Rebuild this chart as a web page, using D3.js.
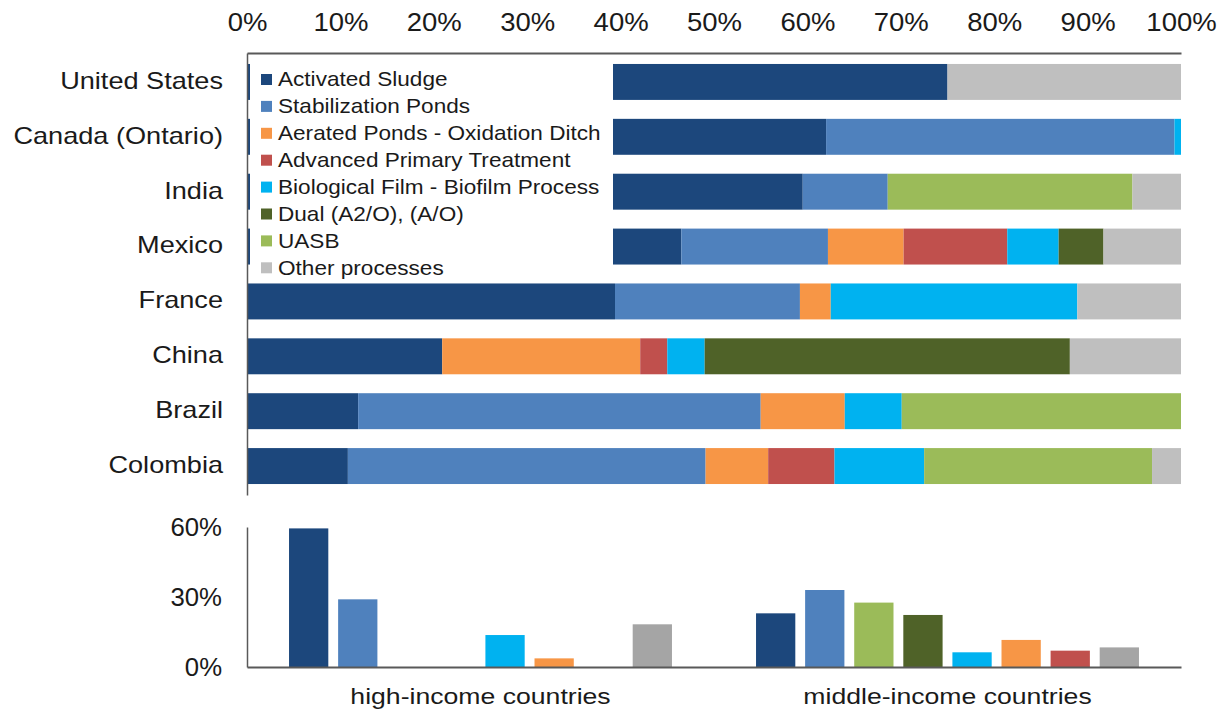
<!DOCTYPE html>
<html>
<head>
<meta charset="utf-8">
<script src="https://cdn.jsdelivr.net/npm/d3@7"></script>
<style>
  html, body { margin: 0; padding: 0; background: #ffffff; }
  svg { display: block; font-family: "Liberation Sans", Arial, Helvetica, sans-serif; }
</style>
</head>
<body>
<svg id="chart" width="1228" height="710"></svg>
<script>
// ---------- DATA ----------
const countries = ["United States", "Canada (Ontario)", "India", "Mexico", "France", "China", "Brazil", "Colombia"];
const seriesNames = ["Activated Sludge", "Stabilization Ponds", "Aerated Ponds - Oxidation Ditch",
  "Advanced Primary Treatment", "Biological Film - Biofilm Process", "Dual (A2/O), (A/O)", "UASB", "Other processes"];
const seriesColors = ["#1c477c", "#4f81bd", "#f79646", "#c0504d", "#00b2f0", "#4f6228", "#9bbb59", "#bfbfbf"];

// shares (%) per country, in the order of `countries`
const activatedSludge   = [75.0, 62.0, 59.5, 46.5, 39.4, 20.9, 11.9, 10.8];
const stabilizationPonds= [ 0.0, 37.3,  9.1, 15.7, 19.8,  0.0, 43.1, 38.3];
const aeratedPonds      = [ 0.0,  0.0,  0.0,  8.1,  3.3, 21.2,  9.0,  6.7];
const advancedPrimary   = [ 0.0,  0.0,  0.0, 11.1,  0.0,  2.9,  0.0,  7.1];
const biofilmProcess    = [ 0.0,  0.7,  0.0,  5.5, 26.4,  4.0,  6.1,  9.6];
const dualProcess       = [ 0.0,  0.0,  0.0,  4.8,  0.0, 39.1,  0.0,  0.0];
const uasb              = [ 0.0,  0.0, 26.2,  0.0,  0.0,  0.0, 29.9, 24.4];
const otherProcesses    = [25.0,  0.0,  5.2,  8.3, 11.1, 11.9,  0.0,  3.1];
const seriesValues = [activatedSludge, stabilizationPonds, aeratedPonds, advancedPrimary,
  biofilmProcess, dualProcess, uasb, otherProcesses];

const topTicks = [0, 10, 20, 30, 40, 50, 60, 70, 80, 90, 100];

// lower panel: average share by income group
const incomeGroups = ["high-income countries", "middle-income countries"];
const incomeSeries = ["Activated Sludge", "Stabilization Ponds", "UASB", "Dual (A2/O), (A/O)",
  "Biological Film - Biofilm Process", "Aerated Ponds - Oxidation Ditch", "Advanced Primary Treatment", "Other processes"];
const incomeColors = ["#1c477c", "#4f81bd", "#9bbb59", "#4f6228", "#00b2f0", "#f79646", "#c0504d", "#a5a5a5"];
const highIncome   = [59.4, 29.0, 0.0, 0.0, 13.7, 3.7, 0.0, 18.3];
const middleIncome = [23.0, 33.0, 27.6, 22.3, 6.3, 11.6, 7.0, 8.4];
const bottomTicks = [0, 30, 60];

// ---------- DRAW ----------
const svg = d3.select("#chart");
const textColor = "#1a1a1a";
const axisColor = "#595959";

function stretch(sel, sx) {
  sel.each(function () {
    const t = d3.select(this);
    const x = +t.attr("x") || 0;
    t.attr("x", x / sx).attr("transform", `scale(${sx},1)`);
  });
}

// --- top stacked chart ---
const x = d3.scaleLinear().domain([0, 100]).range([247, 1181]);
const y = d3.scaleBand().domain(countries).range([53, 495]).paddingInner(0.345).paddingOuter(0.2);

const rows = countries.map((c, i) => {
  const r = { country: c };
  seriesNames.forEach((s, k) => r[s] = seriesValues[k][i]);
  return r;
});
const stacked = d3.stack().keys(seriesNames)(rows);

const barsG = svg.append("g");
stacked.forEach((layer, k) => {
  barsG.selectAll(null)
    .data(layer.filter(d => d[1] - d[0] > 0))
    .join("rect")
    .attr("x", d => x(d[0]))
    .attr("y", d => y(d.data.country))
    .attr("width", d => x(d[1]) - x(d[0]))
    .attr("height", y.bandwidth())
    .attr("fill", seriesColors[k]);
});

// legend box (covers left part of the top bars)
const legend = svg.append("g");
legend.append("rect")
  .attr("x", 250).attr("y", 54).attr("width", 363).attr("height", 229)
  .attr("fill", "#ffffff");
const legendRow = d3.scaleLinear().domain([0, 1]).range([79.5, 106.4]);
seriesNames.forEach((s, k) => {
  const cy = legendRow(k);
  legend.append("rect")
    .attr("x", 261).attr("y", cy - 5.5).attr("width", 11).attr("height", 11)
    .attr("fill", seriesColors[k]);
  legend.append("text")
    .attr("x", 278).attr("y", cy + 7)
    .attr("font-size", 20).attr("fill", textColor)
    .text(s)
    .call(stretch, 1.13);
});

// top axis
const topAxis = svg.append("g")
  .attr("transform", "translate(0,53)")
  .call(d3.axisTop(x).tickValues(topTicks).tickFormat(d => d + "%").tickSize(0).tickPadding(22));
topAxis.select(".domain").attr("stroke", axisColor).attr("stroke-width", 2);
topAxis.selectAll("text").attr("font-size", 25).attr("fill", textColor).attr("font-family", null)
  .call(stretch, 1.1);

// left axis (countries)
const leftAxis = svg.append("g")
  .attr("transform", "translate(247,0)")
  .call(d3.axisLeft(y).tickSize(0).tickPadding(24));
leftAxis.select(".domain").attr("stroke", axisColor).attr("stroke-width", 1.5);
leftAxis.selectAll("text").attr("font-size", 23).attr("fill", textColor).attr("font-family", null)
  .attr("dy", "0.3em")
  .call(stretch, 1.18);

// --- bottom grouped chart ---
const x0 = d3.scaleBand().domain(incomeGroups).range([247, 1181]).paddingInner(0.18).paddingOuter(0.09);
const x1 = d3.scaleBand().domain(incomeSeries).range([0, x0.bandwidth()]).paddingInner(0.2).paddingOuter(0);
const yb = d3.scaleLinear().domain([0, 60]).range([667, 527]);
const groupValues = [highIncome, middleIncome];

const groupsG = svg.append("g");
incomeGroups.forEach((g, gi) => {
  groupsG.selectAll(null)
    .data(incomeSeries.map((s, k) => ({ s, v: groupValues[gi][k], c: incomeColors[k] })).filter(d => d.v > 0))
    .join("rect")
    .attr("x", d => x0(g) + x1(d.s))
    .attr("y", d => yb(d.v))
    .attr("width", x1.bandwidth())
    .attr("height", d => yb(0) - yb(d.v))
    .attr("fill", d => d.c);
});

const bAxisY = svg.append("g")
  .attr("transform", "translate(247,0)")
  .call(d3.axisLeft(yb).tickValues(bottomTicks).tickFormat(d => d + "%").tickSize(0).tickPadding(25));
bAxisY.select(".domain").attr("stroke", axisColor).attr("stroke-width", 1.5);
bAxisY.selectAll("text").attr("font-size", 25).attr("fill", textColor).attr("font-family", null)
  .attr("dy", "0.32em")
  .call(stretch, 1.03);

const bAxisX = svg.append("g")
  .attr("transform", "translate(0,667)")
  .call(d3.axisBottom(x0).tickSize(0).tickPadding(21));
bAxisX.select(".domain").attr("stroke", axisColor).attr("stroke-width", 2);
bAxisX.selectAll("text").attr("font-size", 22).attr("fill", textColor).attr("font-family", null)
  .call(stretch, 1.21);
</script>
</body>
</html>
